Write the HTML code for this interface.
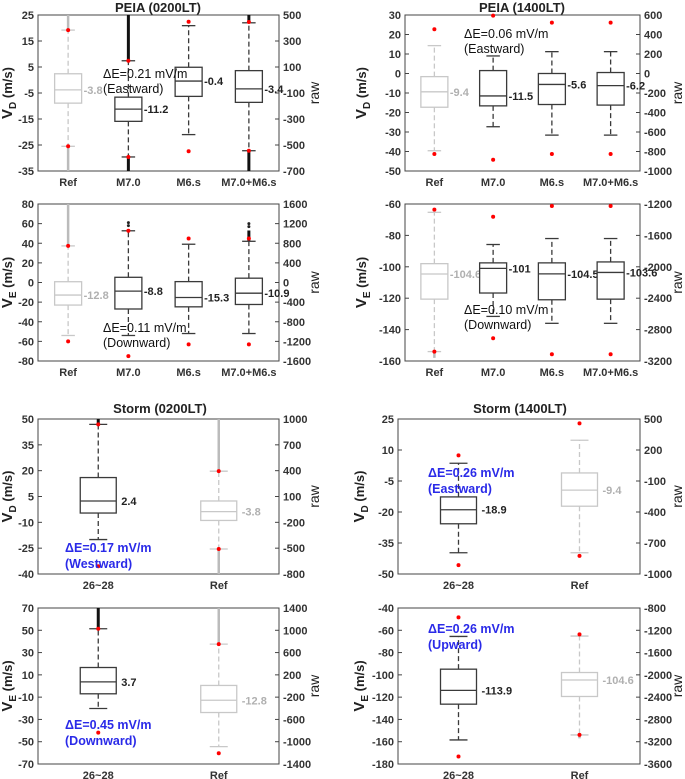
<!DOCTYPE html>
<html><head><meta charset="utf-8"><style>
html,body{margin:0;padding:0;background:#fff}
svg{display:block;font-family:"Liberation Sans",Arial,sans-serif}
</style></head><body>
<svg id="fig" width="685" height="779" viewBox="0 0 685 779" xmlns="http://www.w3.org/2000/svg">
<text x="158" y="12" text-anchor="middle" font-size="13" font-weight="bold" fill="#222">PEIA (0200LT)</text>
<text x="522" y="12" text-anchor="middle" font-size="13" font-weight="bold" fill="#222">PEIA (1400LT)</text>
<text x="160" y="413" text-anchor="middle" font-size="13" font-weight="bold" fill="#222">Storm (0200LT)</text>
<text x="520" y="413" text-anchor="middle" font-size="13" font-weight="bold" fill="#222">Storm (1400LT)</text>
</svg>
<script>
// ---- data (left axis units, m/s) ----
const p1Cats=["Ref","M7.0","M6.s","M7.0+M6.s"];
const p1Lo=[-25.5,-29.6,-21,-27.2], p1Q1=[-8.9,-15.9,-6.3,-8.6], p1Med=[-3.8,-11.2,-0.4,-3.4], p1Q3=[2.4,-6.6,4.9,3.6], p1Hi=[19.2,7.4,20.9,22];
const p1RedHi=[19.2,7.4,22.4,22.3], p1RedLo=[-25.5,-29.6,-27.4,-27.2];
const p1OutTop=[25,25,null,25], p1OutBot=[-35,-35,null,-35];
const p1Labels=["-3.8","-11.2","-0.4","-3.4"];

const p2Cats=["Ref","M7.0","M6.s","M7.0+M6.s"];
const p2Lo=[-54,-54,-52,-52], p2Q1=[-23,-27,-24.8,-22.4], p2Med=[-12.8,-8.8,-15.3,-10.9], p2Q3=[0.8,5.3,0.9,4.4], p2Hi=[37.3,52.7,39,42];
const p2RedHi=[37.3,52.7,44.8,44.8], p2RedLo=[-60,-75,-63,-63];
const p2OutTop=[80,null,null,53], p2OutBot=[null,null,null,null];
const p2Dots=[[],[58,61],[],[57,60]];
const p2Labels=["-12.8","-8.8","-15.3","-10.9"];

const p3Cats=["Ref","M7.0","M6.s","M7.0+M6.s"];
const p3Lo=[-39.6,-27.3,-31.6,-31.6], p3Q1=[-17.3,-16.6,-15.9,-16.2], p3Med=[-9.4,-11.5,-5.6,-6.2], p3Q3=[-1.6,1.5,0,0.5], p3Hi=[14.3,9,11.2,11.2];
const p3RedHi=[22.7,29.7,26.1,26.1], p3RedLo=[-41.3,-44.2,-41.3,-41.3];
const p3OutTop=[null,null,null,null], p3OutBot=[null,null,null,null];
const p3Labels=["-9.4","-11.5","-5.6","-6.2"];

const p4Cats=["Ref","M7.0","M6.s","M7.0+M6.s"];
const p4Lo=[-154,-131.6,-136,-136], p4Q1=[-120.6,-116.7,-121,-120.6], p4Med=[-104.6,-101,-104.5,-103.6], p4Q3=[-98,-97.5,-97.5,-96.9], p4Hi=[-65.3,-85.8,-82,-82];
const p4RedHi=[-63.6,-68.1,-61.3,-61.3], p4RedLo=[-154,-145.5,-155.7,-155.7];
const p4OutTop=[null,null,null,null], p4OutBot=[-158,null,null,null];
const p4Labels=["-104.6","-101","-104.5","-103.6"];

const p5Cats=["26~28","Ref"];
const p5Lo=[-20,-25.5], p5Q1=[-4.6,-8.9], p5Med=[2.4,-3.8], p5Q3=[16,2.4], p5Hi=[46.9,19.7];
const p5RedHi=[46.9,19.7], p5RedLo=[-35.5,-25.5];
const p5OutTop=[50,50], p5OutBot=[null,-40];
const p5Labels=["2.4","-3.8"];

const p6Cats=["26~28","Ref"];
const p6Lo=[-20.2,-54.4], p6Q1=[-7,-23.8], p6Med=[3.7,-12.8], p6Q3=[16.6,0.5], p6Hi=[51.4,37.6];
const p6RedHi=[51.4,37.6], p6RedLo=[-41.8,-60.4];
const p6OutTop=[70,70], p6OutBot=[null,null];
const p6Labels=["3.7","-12.8"];

const p7Cats=["26~28","Ref"];
const p7Lo=[-39.7,-39.7], p7Q1=[-25.7,-17.2], p7Med=[-18.9,-9.4], p7Q3=[-12.7,-1.1], p7Hi=[3.6,14.7];
const p7RedHi=[7.4,22.9], p7RedLo=[-45.7,-41.2];
const p7OutTop=[null,null], p7OutBot=[null,null];
const p7Labels=["-18.9","-9.4"];

const p8Cats=["26~28","Ref"];
const p8Lo=[-158.4,-153.9], p8Q1=[-126.3,-119.4], p8Med=[-113.9,-104.6], p8Q3=[-94.9,-97.9], p8Hi=[-65.5,-65.2];
const p8RedHi=[-48.4,-63.7], p8RedLo=[-173.3,-153.9];
const p8OutTop=[null,null], p8OutBot=[null,-157];
const p8Labels=["-113.9","-104.6"];

const NS="http://www.w3.org/2000/svg";
const svg=document.getElementById('fig');
function mk(tag,attrs,parent){const e=document.createElementNS(NS,tag);for(const k in attrs)e.setAttribute(k,attrs[k]);(parent||svg).appendChild(e);return e;}

function panel(id,g,d){
  const grp=mk('g',{});
  
  
  const ys=v=>g.y1-(v-g.min)/(g.max-g.min)*(g.y1-g.y0);
  const n=d.cats.length, step=(g.x1-g.x0)/n;
  const xs=i=>g.x0+step*(i+0.5);
  // frame
  const fr=mk('rect',{x:g.x0,y:g.y0,width:g.x1-g.x0,height:g.y1-g.y0,fill:'none',stroke:'#444','stroke-width':1},grp);
  
  
  // ticks
  for(let v=g.max;v>=g.min-1e-9;v-=g.step){
    const y=ys(v);
    mk('line',{x1:g.x0,x2:g.x0+4,y1:y,y2:y,stroke:'#444'},grp);
    mk('line',{x1:g.x1,x2:g.x1-4,y1:y,y2:y,stroke:'#444'},grp);
    const t=mk('text',{x:g.x0-4,y:y+4,'text-anchor':'end','font-size':11,'font-weight':'bold',fill:'#333'},grp);
    t.textContent=Math.round(v);
    
    
    const r=mk('text',{x:g.x1+4,y:y+4,'font-size':11,'font-weight':'bold',fill:'#333'},grp);
    r.textContent=Math.round(v*20);
    
    
  }
  // axis labels
  const yl=mk('text',{transform:`translate(${g.x0+g.ylx},${(g.y0+g.y1)/2}) rotate(-90)`,'text-anchor':'middle','font-size':15,'font-weight':'bold',fill:'#222'},grp);
  yl.innerHTML=`V<tspan font-size="10" dy="4">${g.sub}</tspan><tspan dy="-4" font-size="13"> (m/s)</tspan>`;
  
  
  const rl=mk('text',{transform:`translate(${g.x1+g.rlx},${(g.y0+g.y1)/2}) rotate(-90)`,'text-anchor':'middle','font-size':14,fill:'#222'},grp);
  rl.textContent='raw';
  
  
  const bw=g.bw;
  for(let i=0;i<n;i++){
    const x=xs(i), ref=d.cats[i]==='Ref';
    const c=ref?'#c8c8c8':'#3a3a3a';
    const cl=mk('text',{x:x,y:g.y1+15,'text-anchor':'middle','font-size':11,'font-weight':'bold',fill:'#333'},grp);
    cl.textContent=d.cats[i];
    
    
    // outlier dense segments
    if(d.outTop[i]!=null){const s=mk('line',{x1:x,x2:x,y1:ys(d.hi[i]),y2:ys(d.outTop[i]),stroke:ref?'#bbb':'#111','stroke-width':ref?2.5:3},grp);
      }
    if(d.outBot[i]!=null){const s=mk('line',{x1:x,x2:x,y1:ys(d.lo[i]),y2:ys(d.outBot[i]),stroke:ref?'#bbb':'#111','stroke-width':ref?2.5:3},grp);
      }
    if(d.dots){for(const v of d.dots[i]){const o=mk('circle',{cx:x,cy:ys(v),r:1.5,fill:'#222'},grp);
      }}
    // whiskers
    const w1=mk('line',{x1:x,x2:x,y1:ys(d.q3[i]),y2:ys(d.hi[i]),stroke:c,'stroke-width':1.3,'stroke-dasharray':'5,3'},grp);
    
    const w2=mk('line',{x1:x,x2:x,y1:ys(d.q1[i]),y2:ys(d.lo[i]),stroke:c,'stroke-width':1.3,'stroke-dasharray':'5,3'},grp);
    
    for(const v of [d.hi[i],d.lo[i]]){const cp=mk('line',{x1:x-bw/4,x2:x+bw/4,y1:ys(v),y2:ys(v),stroke:c,'stroke-width':1.3},grp);
      }
    const b=mk('rect',{x:x-bw/2,y:ys(d.q3[i]),width:bw,height:ys(d.q1[i])-ys(d.q3[i]),fill:'#fff',stroke:c,'stroke-width':1.3},grp);
    
    
    const m=mk('line',{x1:x-bw/2,x2:x+bw/2,y1:ys(d.med[i]),y2:ys(d.med[i]),stroke:c,'stroke-width':1.3},grp);
    
    const ml=mk('text',{x:x+bw/2+(n===2?5:2),y:ys(d.med[i])+4,'font-size':11,'font-weight':'bold',fill:ref?'#b0b0b0':'#222'},grp);
    ml.textContent=d.labels[i];
    
    for(const v of [d.redHi[i],d.redLo[i]]){const rd=mk('circle',{cx:x,cy:ys(v),r:2,fill:'#f00'},grp);
      }
  }
}
panel('panel-peia-0200-vd',{x0:38,x1:279,y0:15,y1:171,min:-35,max:25,step:10,bw:27,sub:'D',ylx:-26,rlx:40},
 {cats:p1Cats,lo:p1Lo,q1:p1Q1,med:p1Med,q3:p1Q3,hi:p1Hi,redHi:p1RedHi,redLo:p1RedLo,outTop:p1OutTop,outBot:p1OutBot,labels:p1Labels});
panel('panel-peia-0200-ve',{x0:38,x1:279,y0:204,y1:361,min:-80,max:80,step:20,bw:27,sub:'E',ylx:-26,rlx:40},
 {cats:p2Cats,lo:p2Lo,q1:p2Q1,med:p2Med,q3:p2Q3,hi:p2Hi,redHi:p2RedHi,redLo:p2RedLo,outTop:p2OutTop,outBot:p2OutBot,dots:p2Dots,labels:p2Labels});
panel('panel-peia-1400-vd',{x0:405,x1:640,y0:15,y1:171,min:-50,max:30,step:10,bw:27,sub:'D',ylx:-39,rlx:42},
 {cats:p3Cats,lo:p3Lo,q1:p3Q1,med:p3Med,q3:p3Q3,hi:p3Hi,redHi:p3RedHi,redLo:p3RedLo,outTop:p3OutTop,outBot:p3OutBot,labels:p3Labels});
panel('panel-peia-1400-ve',{x0:405,x1:640,y0:204,y1:361,min:-160,max:-60,step:20,bw:27,sub:'E',ylx:-39,rlx:42},
 {cats:p4Cats,lo:p4Lo,q1:p4Q1,med:p4Med,q3:p4Q3,hi:p4Hi,redHi:p4RedHi,redLo:p4RedLo,outTop:p4OutTop,outBot:p4OutBot,labels:p4Labels});
panel('panel-storm-0200-vd',{x0:38,x1:279,y0:419,y1:574,min:-40,max:50,step:15,bw:36,sub:'D',ylx:-26,rlx:40},
 {cats:p5Cats,lo:p5Lo,q1:p5Q1,med:p5Med,q3:p5Q3,hi:p5Hi,redHi:p5RedHi,redLo:p5RedLo,outTop:p5OutTop,outBot:p5OutBot,labels:p5Labels});
panel('panel-storm-0200-ve',{x0:38,x1:279,y0:608,y1:764,min:-70,max:70,step:20,bw:36,sub:'E',ylx:-26,rlx:40},
 {cats:p6Cats,lo:p6Lo,q1:p6Q1,med:p6Med,q3:p6Q3,hi:p6Hi,redHi:p6RedHi,redLo:p6RedLo,outTop:p6OutTop,outBot:p6OutBot,labels:p6Labels});
panel('panel-storm-1400-vd',{x0:398,x1:640,y0:419,y1:574,min:-50,max:25,step:15,bw:36,sub:'D',ylx:-34,rlx:42},
 {cats:p7Cats,lo:p7Lo,q1:p7Q1,med:p7Med,q3:p7Q3,hi:p7Hi,redHi:p7RedHi,redLo:p7RedLo,outTop:p7OutTop,outBot:p7OutBot,labels:p7Labels});
panel('panel-storm-1400-ve',{x0:398,x1:640,y0:608,y1:764,min:-180,max:-40,step:20,bw:36,sub:'E',ylx:-34,rlx:42},
 {cats:p8Cats,lo:p8Lo,q1:p8Q1,med:p8Med,q3:p8Q3,hi:p8Hi,redHi:p8RedHi,redLo:p8RedLo,outTop:p8OutTop,outBot:p8OutBot,labels:p8Labels});

// annotations
const notes=[
 [103,78,'ΔE=0.21 mV/m','#111','normal'],[103,93,'(Eastward)','#111','normal'],
 [103,332,'ΔE=0.11 mV/m','#111','normal'],[103,347,'(Downward)','#111','normal'],
 [464,38,'ΔE=0.06 mV/m','#111','normal'],[464,53,'(Eastward)','#111','normal'],
 [464,314,'ΔE=0.10 mV/m','#111','normal'],[464,329,'(Downward)','#111','normal'],
 [65,552,'ΔE=0.17 mV/m','#2a2ae8','bold'],[65,568,'(Westward)','#2a2ae8','bold'],
 [65,729,'ΔE=0.45 mV/m','#2a2ae8','bold'],[65,745,'(Downward)','#2a2ae8','bold'],
 [428,477,'ΔE=0.26 mV/m','#2a2ae8','bold'],[428,493,'(Eastward)','#2a2ae8','bold'],
 [428,633,'ΔE=0.26 mV/m','#2a2ae8','bold'],[428,649,'(Upward)','#2a2ae8','bold']];
for(const [x,y,s,c,w] of notes){
  const t=mk('text',{x:x,y:y,'font-size':12.5,'font-weight':w,fill:c});
  t.textContent=s;
  
  
}
</script>
</body></html>
